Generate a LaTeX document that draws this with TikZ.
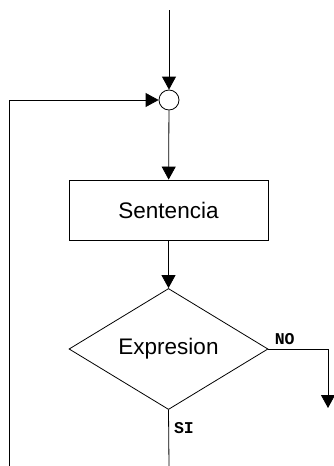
\documentclass[tikz,border=0pt]{standalone}
\usepackage{fontspec}
\setmainfont{Liberation Sans}
\setmonofont{Liberation Mono}
\usetikzlibrary{shapes.geometric}
\usetikzlibrary{arrows.meta}

\begin{document}
\begin{tikzpicture}[x=1pt,y=-1pt,line width=0.8pt,
 >={Triangle[length=13pt,width=14pt]},
 block/.style={draw,minimum width=199pt,minimum height=60pt,font=\fontsize{22.5}{26}\selectfont},
 cond/.style={draw,diamond,minimum width=199pt,minimum height=118pt,inner sep=0pt,font=\fontsize{22.5}{26}\selectfont},
 lbl/.style={font=\fontsize{16.5}{18}\selectfont\ttfamily\bfseries,inner sep=2pt}]
\useasboundingbox (0,0) rectangle (333,466);
\path (169,10) coordinate (top) (9,466) coordinate (loop) (169,466) coordinate (si) (328,408) coordinate (no);
\node[draw,circle,minimum size=20pt,inner sep=0pt] (join) at (169,100) {};
\node[block] (sent) at (168.5,210) {Sentencia};
\node[cond] (expr) at (168.5,349) {Expresion};
\draw[->] (top) -- (join);
\draw[->] (loop) |- (join);
\draw[->] (join) -- (sent);
\draw[->] (sent) -- (expr);
\draw[->] (expr.east) node[lbl,anchor=south west,xshift=4pt,yshift=2pt] (nolbl) {NO} -| (no);
\draw (expr.south) -- (si) node[lbl,pos=0.33,anchor=west,xshift=3pt] (silbl) {SI};
\end{tikzpicture}
\end{document}
